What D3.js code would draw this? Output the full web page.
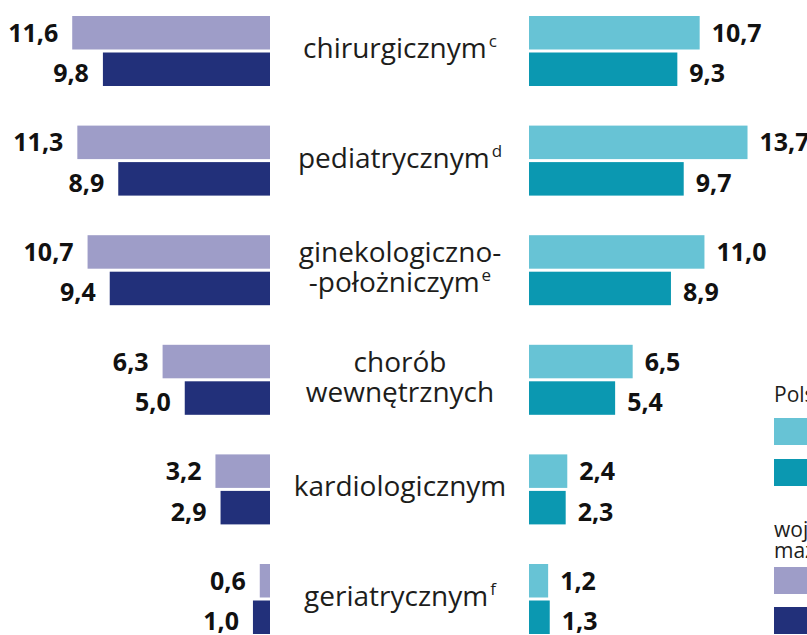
<!DOCTYPE html>
<html>
<head>
<meta charset="utf-8">
<script src="https://cdn.jsdelivr.net/npm/d3@7"></script>
<style>
  body { margin: 0; background: #fff; overflow: hidden; }
  svg { display: block; }
  .cat { font-family: "Open Sans", sans-serif; font-size: 28px; fill: #1d1d1b; }
  .val { font-family: "Open Sans", sans-serif; font-weight: 700; font-size: 25px; fill: #111; }
  .leg { font-family: "Open Sans", sans-serif; font-size: 21px; fill: #1d1d1b; }
</style>
</head>
<body>
<svg id="chart"></svg>
<script>
// DATA
const categories = ['chirurgicznym', 'pediatrycznym', 'ginekologiczno-|-położniczym', 'chorób|wewnętrznych', 'kardiologicznym', 'geriatrycznym']
const footnotes = ['c', 'd', 'e', '', '', 'f']
const mazLight = [11.6, 11.3, 10.7, 6.3, 3.2, 0.6]
const mazDark = [9.8, 8.9, 9.4, 5.0, 2.9, 1.0]
const plLight = [10.7, 13.7, 11.0, 6.5, 2.4, 1.2]
const plDark = [9.3, 9.7, 8.9, 5.4, 2.3, 1.3]
const legendGroups = ['Polska', 'województwo|mazowieckie']

const colors = { mazLight: '#9e9dc8', mazDark: '#22307a', plLight: '#67c3d5', plDark: '#0b98b1' }

const width = 807
const height = 635

const svg = d3.select('#chart')
    .attr('width', width)
    .attr('height', height)

var y = d3.scaleBand()
    .domain(categories)
    .range([16, 634])
    .paddingInner(0.3613)
    .paddingOuter(0)

const barH = 33.5
const barGap = 3

// left side grows to the left, right side to the right
var xL = d3.scaleLinear().domain([0, 14]).range([270, 270 - 14 * 17.05])
var xR = d3.scaleLinear().domain([0, 14]).range([529, 529 + 14 * 15.95])

const fmt = v => d3.format('.1f')(v).replace('.', ',')

var rows = categories.map((c, i) => ({ cat: c, note: footnotes[i], mL: mazLight[i], mD: mazDark[i], pL: plLight[i], pD: plDark[i] }))

// lab = baseline shift of the value label from the bar middle
var series = [
    { key: 'mL', side: 'L', color: colors.mazLight, off: 0, lab: 9 },
    { key: 'mD', side: 'L', color: colors.mazDark, off: barH + barGap, lab: 13 },
    { key: 'pL', side: 'R', color: colors.plLight, off: 0, lab: 9 },
    { key: 'pD', side: 'R', color: colors.plDark, off: barH + barGap, lab: 13 }
]

// BARS + VALUE LABELS
for (let s of series) {
    var g = svg.append('g').attr('class', 'series-' + s.key)
    g.selectAll('rect')
        .data(rows)
        .enter().append('rect')
        .attr('x', d => s.side == 'L' ? xL(d[s.key]) : xR(0))
        .attr('width', d => s.side == 'L' ? xL(0) - xL(d[s.key]) : xR(d[s.key]) - xR(0))
        .attr('y', d => y(d.cat) + s.off)
        .attr('height', barH)
        .attr('fill', s.color)

    g.selectAll('text')
        .data(rows)
        .enter().append('text')
        .attr('class', 'val')
        .attr('text-anchor', s.side == 'L' ? 'end' : 'start')
        .attr('x', d => s.side == 'L' ? xL(d[s.key]) - 14 : xR(d[s.key]) + 12)
        .attr('y', d => y(d.cat) + s.off + barH / 2 + s.lab)
        .text(d => fmt(d[s.key]))
}

// CATEGORY LABELS
var labels = svg.append('g').attr('class', 'cats')
rows.forEach(d => {
    var lines = d.cat.split('|')
    var cy = y(d.cat) + y.bandwidth() / 2
    var t = labels.append('text')
        .attr('class', 'cat')
        .attr('text-anchor', 'middle')
        .attr('x', 400)
        .attr('y', cy + 7 - (lines.length - 1) * 15)
    lines.forEach((l, j) => {
        var sp = t.append('tspan')
        if (j > 0) sp.attr('x', 400).attr('dy', 30)
        sp.text(l)
        if (j == lines.length - 1 && d.note) {
            t.append('tspan')
                .attr('dx', 2)
                .attr('dy', -11)
                .style('font-size', '17px')
                .text(d.note)
        }
    })
})

// LEGEND (runs off the right edge)
var legend = svg.append('g').attr('class', 'legend')
legend.append('text').attr('class', 'leg').attr('x', 774).attr('y', 402).text(legendGroups[0])
legend.append('rect').attr('x', 774).attr('y', 418).attr('width', 40).attr('height', 27).attr('fill', colors.plLight)
legend.append('rect').attr('x', 774).attr('y', 459).attr('width', 40).attr('height', 27).attr('fill', colors.plDark)
var wt = legend.append('text').attr('class', 'leg').attr('x', 774).attr('y', 537)
legendGroups[1].split('|').forEach((l, j) => {
    wt.append('tspan').attr('x', 774).attr('dy', j ? 21 : 0).text(l)
})
legend.append('rect').attr('x', 774).attr('y', 567).attr('width', 40).attr('height', 27).attr('fill', colors.mazLight)
legend.append('rect').attr('x', 774).attr('y', 607).attr('width', 40).attr('height', 27).attr('fill', colors.mazDark)
</script>
</body>
</html>
